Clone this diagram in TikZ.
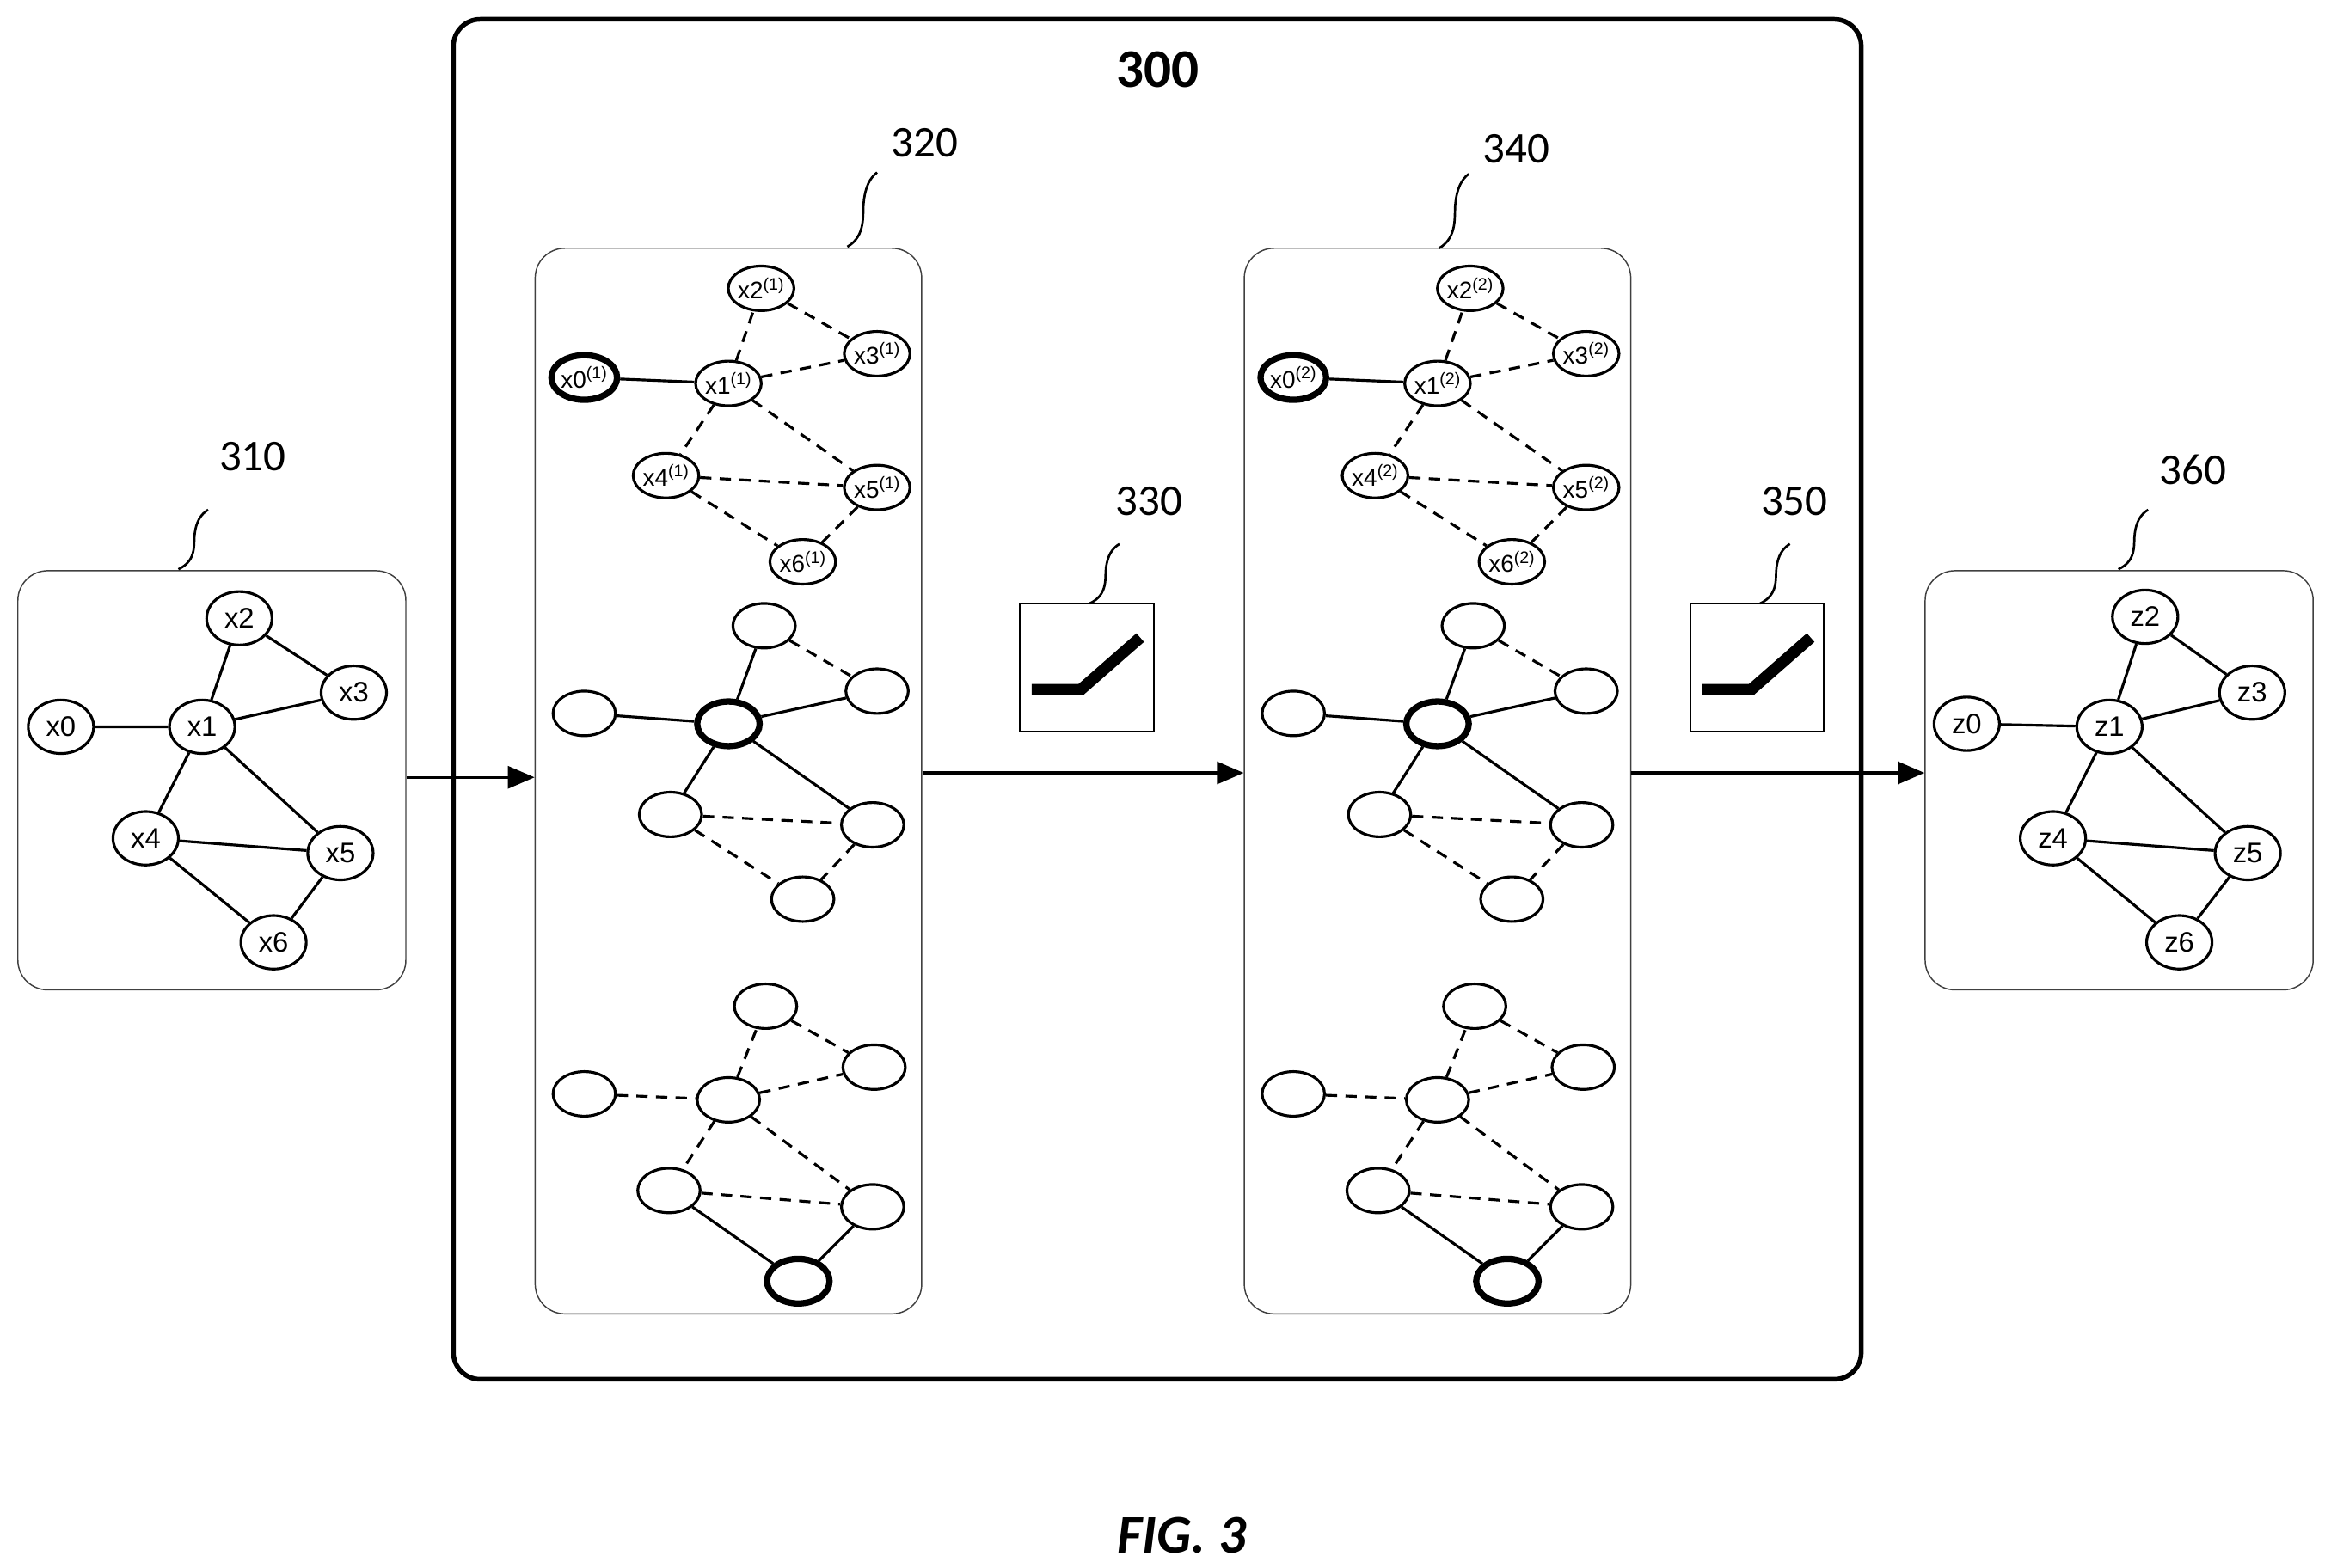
\documentclass[tikz,border=0pt]{standalone}
\usepackage{fontspec}
\setmainfont{Carlito}
\newfontfamily\arialf{Liberation Sans}
\usetikzlibrary{shapes.geometric,arrows.meta}
\begin{document}
\begin{tikzpicture}[x=0.05cm,y=-0.05cm,
  nd/.style={ellipse,draw,line width=2.6pt,minimum width=2.2cm,minimum height=1.8cm,inner sep=0pt,font=\arialf\fontsize{27}{27}\selectfont},
  sn/.style={ellipse,draw,line width=2.6pt,minimum width=2.1cm,minimum height=1.5cm,inner sep=0pt,font=\arialf\fontsize{23}{23}\selectfont},
  thk/.style={line width=6pt},
  ed/.style={line width=2.6pt},
  dd/.style={line width=2.6pt,dash pattern=on 0.38cm off 0.28cm},
  pane/.style={draw=black!75,line width=1.2pt,rounded corners=1cm},
  lab/.style={font=\fontsize{42}{42}\selectfont},
  lead/.style={line width=2.2pt},
  arr/.style={line width=2.6pt,-{Triangle[length=0.9cm,width=0.75cm]}}]
\useasboundingbox (0,0) rectangle (1564,1055);
% input box 310
\node[pane,minimum width=13.05cm,minimum height=14.1cm] (b310) at (142.5,525) {};
\node[nd] (x0) at (41,489) {x0};
\node[nd] (x1) at (136,489) {x1};
\node[nd] (x2) at (161,416) {x2};
\node[nd] (x3) at (238,466) {x3};
\node[nd] (x4) at (98,564) {x4};
\node[nd] (x5) at (229,574) {x5};
\node[nd] (x6) at (184,634) {x6};
\draw[ed] (x0)--(x1) (x1)--(x2) (x2)--(x3) (x1)--(x3) (x1)--(x4) (x1)--(x5) (x4)--(x5) (x4)--(x6) (x5)--(x6);
% output box 360
\node[pane,minimum width=13.05cm,minimum height=14.1cm] (b360) at (1425.5,525) {};
\node[nd] (z0) at (1323,487) {z0};
\node[nd] (z1) at (1419,489) {z1};
\node[nd] (z2) at (1443,415) {z2};
\node[nd] (z3) at (1515,466) {z3};
\node[nd] (z4) at (1381,564) {z4};
\node[nd] (z5) at (1512,574) {z5};
\node[nd] (z6) at (1466,634) {z6};
\draw[ed] (z0)--(z1) (z1)--(z2) (z2)--(z3) (z1)--(z3) (z1)--(z4) (z1)--(z5) (z4)--(z5) (z4)--(z6) (z5)--(z6);
% big box 300
\draw[line width=4.5pt,rounded corners=0.9cm] (305,13) rectangle (1252,928);
\node[font=\bfseries\fontsize{52}{52}\selectfont] (t300) at (779,47) {300};
% layers
\foreach \o/\s in {0/1,477/2}{
\begin{scope}[xshift=\o*0.05cm]
\node[pane,minimum width=13cm,minimum height=35.85cm] (p\s) at (490,525.5) {};
\node[sn,thk] (a0\s) at (393,254) {x0\textsuperscript{(\s)}};
\node[sn] (a1\s) at (490,258) {x1\textsuperscript{(\s)}};
\node[sn] (a2\s) at (512,194) {x2\textsuperscript{(\s)}};
\node[sn] (a3\s) at (590,238) {x3\textsuperscript{(\s)}};
\node[sn] (a4\s) at (448,320) {x4\textsuperscript{(\s)}};
\node[sn] (a5\s) at (590,328) {x5\textsuperscript{(\s)}};
\node[sn] (a6\s) at (540,378) {x6\textsuperscript{(\s)}};
\draw[ed] (a0\s)--(a1\s);
\draw[dd] (a1\s)--(a2\s) (a2\s)--(a3\s) (a1\s)--(a3\s) (a1\s)--(a4\s) (a1\s)--(a5\s) (a4\s)--(a5\s) (a4\s)--(a6\s) (a5\s)--(a6\s);
\node[sn] (m0\s) at (393,480) {};
\node[sn,thk] (m1\s) at (490,487) {};
\node[sn] (m2\s) at (514,421) {};
\node[sn] (m3\s) at (590,465) {};
\node[sn] (m4\s) at (451,548) {};
\node[sn] (m5\s) at (587,555) {};
\node[sn] (m6\s) at (540,605) {};
\draw[ed] (m0\s)--(m1\s) (m1\s)--(m2\s) (m1\s)--(m3\s) (m1\s)--(m4\s) (m1\s)--(m5\s);
\draw[dd] (m2\s)--(m3\s) (m4\s)--(m5\s) (m4\s)--(m6\s) (m5\s)--(m6\s);
\node[sn] (n0\s) at (393,736) {};
\node[sn] (n1\s) at (490,740) {};
\node[sn] (n2\s) at (515,677) {};
\node[sn] (n3\s) at (588,718) {};
\node[sn] (n4\s) at (450,801) {};
\node[sn] (n5\s) at (587,812) {};
\node[sn,thk] (n6\s) at (537,862) {};
\draw[dd] (n0\s)--(n1\s) (n1\s)--(n2\s) (n2\s)--(n3\s) (n1\s)--(n3\s) (n1\s)--(n4\s) (n1\s)--(n5\s) (n4\s)--(n5\s);
\draw[ed] (n4\s)--(n6\s) (n5\s)--(n6\s);
\end{scope}}
% activation boxes
\foreach \o/\n in {0/330,451/350}{
\begin{scope}[xshift=\o*0.05cm]
\node[draw,line width=1.6pt,minimum width=4.5cm,minimum height=4.3cm,inner sep=0pt] (act\n) at (731,449) {};
\draw[line width=11pt] (694,464) -- (727,464) -- (767,429);
\end{scope}}
% arrows
\draw[arr] (b310.east |- 0,523) -- (p1.west |- 0,523);
\draw[arr] (p1.east |- 0,520) -- (p2.west |- 0,520);
\draw[arr] (p2.east |- 0,520) -- (b360.west |- 0,520);
% leaders and labels
\foreach \x/\y/\h/\lx/\ly/\t in {120/383/1/170/307/310, 570/166/1.25/622/96/320, 733/406/1/773/337/330, 968/167/1.25/1020/100/340, 1184/406/1/1207/337/350, 1425/383/1/1475/316/360}{
\draw[lead,shift={(\x,\y)},yscale=\h] (0,0) .. controls (13,-6) and (10,-18) .. (11,-24) .. controls (12,-32) and (15,-37) .. (20,-40);
\node[lab] at (\lx,\ly) {\t};
}
\node[font=\bfseries\itshape\fontsize{52}{52}\selectfont] (fig) at (795,1033) {FIG. 3};
\end{tikzpicture}
\end{document}
